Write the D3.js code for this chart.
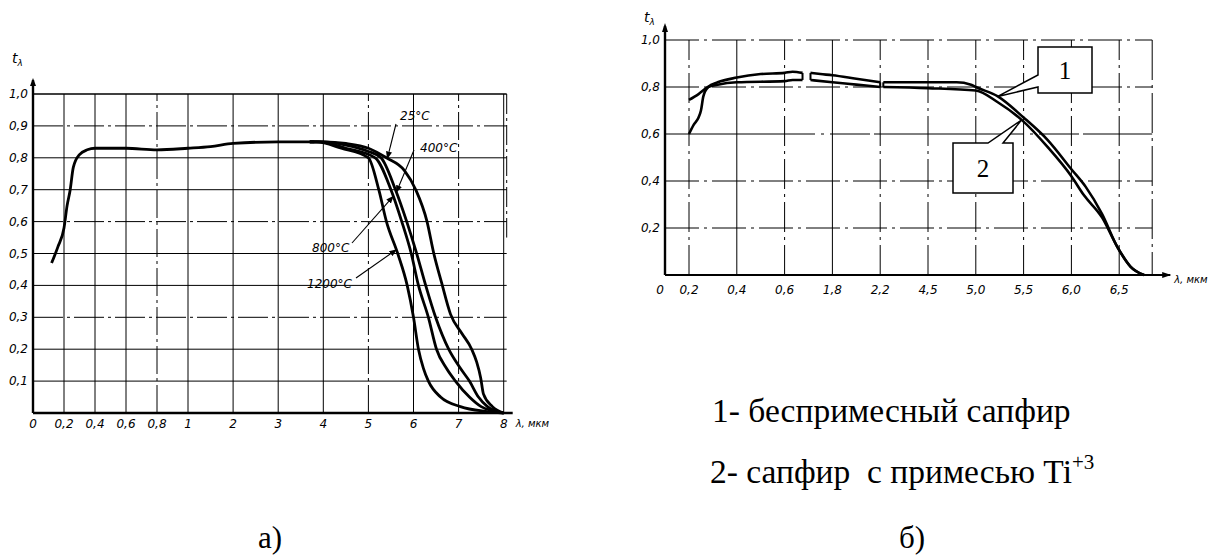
<!DOCTYPE html>
<html><head><meta charset="utf-8">
<script src="https://cdn.jsdelivr.net/npm/d3@7"></script>
<style>body{margin:0;background:#fff}svg{display:block}</style>
</head><body>
<svg id="c" width="1219" height="558"></svg>
<script>
// ---------- DATA ----------
// Left chart (a): transmittance t_λ vs wavelength λ (мкм)
const leftXTicks = [0,0.2,0.4,0.6,0.8,1,2,3,4,5,6,7,8];
const leftXLabels = ["0","0,2","0,4","0,6","0,8","1","2","3","4","5","6","7","8"];
const leftYTicks = [0.1,0.2,0.3,0.4,0.5,0.6,0.7,0.8,0.9,1.0];
const leftYLabels = ["0,1","0,2","0,3","0,4","0,5","0,6","0,7","0,8","0,9","1,0"];
const leftBase = [[0.12,0.47],[0.16,0.52],[0.2,0.58],[0.22,0.65],[0.24,0.70],[0.26,0.77],[0.3,0.81],[0.35,0.825],[0.4,0.83],[0.6,0.83],[0.8,0.825],[1.0,0.83],[1.5,0.835],[2,0.845],[3,0.85],[3.8,0.85]];
const curve25 = [[3.7,0.85],[4.0,0.85],[4.5,0.845],[5.0,0.83],[5.4,0.80],[5.8,0.76],[6.05,0.70],[6.3,0.60],[6.45,0.50],[6.62,0.41],[6.82,0.31],[7.07,0.25],[7.29,0.20],[7.4,0.16],[7.49,0.11],[7.55,0.06],[7.75,0.02],[8,0]];
const curve400 = [[3.7,0.85],[4.0,0.85],[4.5,0.84],[5.0,0.82],[5.28,0.80],[5.6,0.70],[5.85,0.60],[6.07,0.50],[6.27,0.40],[6.49,0.30],[6.78,0.20],[7.04,0.14],[7.24,0.10],[7.44,0.05],[7.64,0.02],[8,0]];
const curve800 = [[3.7,0.85],[3.9,0.85],[4.5,0.83],[5.15,0.80],[5.5,0.70],[5.74,0.60],[5.95,0.50],[6.11,0.40],[6.33,0.30],[6.51,0.20],[6.73,0.14],[6.93,0.10],[7.24,0.05],[7.5,0.02],[8,0]];
const curve1200 = [[3.7,0.85],[3.85,0.85],[4.4,0.83],[5.0,0.80],[5.23,0.70],[5.4,0.60],[5.65,0.50],[5.86,0.40],[6.0,0.30],[6.11,0.20],[6.22,0.14],[6.33,0.10],[6.6,0.05],[7.04,0.02],[7.6,0.005],[8,0]];
const tempLabels = ["25°C","400°C","800°C","1200°C"];
const tempAnchorsX = [5.42,5.62,5.55,5.62];

// Right chart (б)
const rightXTicks = [0,0.2,0.4,0.6,1.8,2.2,4.5,5.0,5.5,6.0,6.5];
const rightXLabels = ["0","0,2","0,4","0,6","1,8","2,2","4,5","5,0","5,5","6,0","6,5"];
const rightYTicks = [0.2,0.4,0.6,0.8,1.0];
const rightYLabels = ["0,2","0,4","0,6","0,8","1,0"];
// curve 1 – беспримесный сапфир, curve 2 – сапфир с примесью Ti+3 (segments split at axis breaks)
const sapphire1 = [
  [[0.2,0.6],[0.22,0.64],[0.24,0.67],[0.25,0.70],[0.26,0.76],[0.28,0.80],[0.32,0.82],[0.4,0.84],[0.5,0.855],[0.6,0.86],[0.8,0.865],[1.05,0.86]],
  [[1.25,0.86],[1.5,0.855],[1.8,0.85],[2.0,0.835],[2.2,0.82]],
  [[2.35,0.82],[3.5,0.82],[4.5,0.82],[4.8,0.82],[4.95,0.81],[5.0,0.80],[5.23,0.76],[5.5,0.67],[5.75,0.575],[6.0,0.45],[6.15,0.375],[6.32,0.26],[6.48,0.12],[6.62,0.035],[6.76,0]]
];
const sapphire2 = [
  [[0.2,0.745],[0.24,0.77],[0.28,0.80],[0.32,0.81],[0.4,0.82],[0.6,0.825],[0.8,0.83],[1.05,0.83]],
  [[1.25,0.83],[1.8,0.82],[2.0,0.81],[2.2,0.80]],
  [[2.35,0.80],[4.5,0.795],[5.0,0.785],[5.23,0.735],[5.48,0.66],[5.75,0.545],[6.0,0.42],[6.13,0.34],[6.32,0.245],[6.48,0.12],[6.62,0.035],[6.76,0]]
];
const calloutLabels = ["1","2"];
const calloutAnchorsX = [5.23,5.48];
const legendLines = ["1- беспримесный сапфир","2- сапфир  с примесью Ti"];
const legendSup = "+3";
const panelLabels = ["а)","б)"];

// ---------- DRAW ----------
const svg = d3.select("#c");
const tickFont = "'DejaVu Sans', sans-serif";
const defs = svg.append("defs");
defs.append("marker").attr("id","arr").attr("viewBox","0 0 10 10").attr("refX",9).attr("refY",5)
  .attr("markerWidth",7).attr("markerHeight",7).attr("orient","auto")
  .append("path").attr("d","M0,1 L10,5 L0,9 z").attr("fill","#000");

function interp(data, x){
  for(let i=0;i<data.length-1;i++){
    const a=data[i], b=data[i+1];
    if(x>=a[0] && x<=b[0]) return a[1]+(b[1]-a[1])*(x-a[0])/(b[0]-a[0]);
  }
  return data[data.length-1][1];
}

// ---- Left chart ----
{
  const x0 = 33, w1 = 31, w2 = 45.1;
  const range = leftXTicks.map((d,i)=> i<=5 ? x0 + i*w1 : x0 + 5*w1 + (i-5)*w2);
  const x = d3.scaleLinear().domain(leftXTicks).range(range);
  const y = d3.scaleLinear().domain([0,1]).range([413,94]);
  const g = svg.append("g");
  // grid
  g.selectAll(".hg").data(leftYTicks).join("line")
    .attr("x1",x(0)).attr("x2",x(8)+3).attr("y1",d=>y(d)).attr("y2",d=>y(d))
    .attr("stroke","#000").attr("stroke-width",d=>d===1?1.4:1)
    .attr("stroke-dasharray",(d,i)=> i%3===2 ? "30,4,3,4" : null);
  g.selectAll(".vg").data(leftXTicks.slice(1)).join("line")
    .attr("x1",d=>x(d)).attr("x2",d=>x(d)).attr("y1",y(0)).attr("y2",y(1))
    .attr("stroke","#000").attr("stroke-width",1)
    .attr("stroke-dasharray",(d,i)=> (i===3||i===8||i===10) ? "28,4,3,4" : null);
  g.append("line").attr("x1",x(8)+3).attr("x2",x(8)+3).attr("y1",y(1)).attr("y2",y(0.55))
    .attr("stroke","#000").attr("stroke-dasharray","20,4,3,4");
  // axes
  g.append("line").attr("x1",x(0)).attr("x2",x(8)+9).attr("y1",y(0)).attr("y2",y(0)).attr("stroke","#000").attr("stroke-width",2.4);
  g.append("line").attr("x1",x(0)).attr("x2",x(0)).attr("y1",y(0)).attr("y2",y(1)-14).attr("stroke","#000").attr("stroke-width",2.4);
  g.append("path").attr("d",`M${x(0)-3},${y(1)-8} L${x(0)},${y(1)-16} L${x(0)+3},${y(1)-8} Z`).attr("fill","#000");
  // tick labels
  g.selectAll(".xl").data(leftXTicks).join("text")
    .attr("x",d=>x(d)).attr("y",y(0)+15).attr("text-anchor","middle")
    .attr("font-family",tickFont).attr("font-style","italic").attr("font-size",12).text((d,i)=>leftXLabels[i]);
  g.selectAll(".yl").data(leftYTicks).join("text")
    .attr("x",x(0)-5).attr("y",d=>y(d)+4).attr("text-anchor","end")
    .attr("font-family",tickFont).attr("font-style","italic").attr("font-size",12).text((d,i)=>leftYLabels[i]);
  const ta = g.append("text").attr("x",12).attr("y",63).attr("font-family",tickFont).attr("font-style","italic").attr("font-size",14);
  ta.append("tspan").text("t");
  ta.append("tspan").attr("font-size",9).attr("dy",3).text("λ");
  g.append("text").attr("x",x(8)+12).attr("y",y(0)+14).attr("font-family",tickFont).attr("font-style","italic").attr("font-size",10).text("λ, мкм");
  // curves
  const line = d3.line().x(d=>x(d[0])).y(d=>y(d[1])).curve(d3.curveMonotoneX);
  const curves = [leftBase, curve25, curve400, curve800, curve1200];
  g.selectAll(".cv").data(curves).join("path").attr("d",line)
    .attr("fill","none").attr("stroke","#000").attr("stroke-width",2.8).attr("stroke-linejoin","round");
  // temperature labels
  const lab = [[400,120],[420,152],[312,252],[307,288]];
  const from = [[396,124],[414,150],[352,243],[356,278]];
  const temps = [curve25,curve400,curve800,curve1200];
  tempLabels.forEach((t,i)=>{
    g.append("text").attr("x",lab[i][0]).attr("y",lab[i][1])
      .attr("font-family",tickFont).attr("font-style","italic").attr("font-size",12).text(t);
    const tx = x(tempAnchorsX[i]), ty = y(interp(temps[i],tempAnchorsX[i]));
    g.append("line").attr("x1",from[i][0]).attr("y1",from[i][1]).attr("x2",tx).attr("y2",ty)
      .attr("stroke","#000").attr("stroke-width",1.1).attr("marker-end","url(#arr)");
  });
  svg.append("text").attr("x",270).attr("y",548).attr("text-anchor","middle")
    .attr("font-family","'Liberation Serif', serif").attr("font-size",31).text(panelLabels[0]);
}

// ---- Right chart ----
{
  const x0 = 665, first = 24, step = 47.8;
  const range = rightXTicks.map((d,i)=> i===0 ? x0 : x0 + first + (i-1)*step);
  const x = d3.scaleLinear().domain(rightXTicks).range(range);
  const y = d3.scaleLinear().domain([0,1]).range([275,40]);
  const xRight = x(6.5) + 33;
  const g = svg.append("g");
  g.selectAll(".hg").data(rightYTicks).join("line")
    .attr("x1",x(0)).attr("x2",xRight).attr("y1",d=>y(d)).attr("y2",d=>y(d))
    .attr("stroke","#000").attr("stroke-width",1)
    .attr("stroke-dasharray",(d,i)=> i===2 ? "150,6,3,6,40,4" : "34,5,3,5");
  g.selectAll(".vg").data(rightXTicks.slice(1)).join("line")
    .attr("x1",d=>x(d)).attr("x2",d=>x(d)).attr("y1",y(0)).attr("y2",y(1))
    .attr("stroke","#000").attr("stroke-width",1)
    .attr("stroke-dasharray",(d,i)=> (i===1||i===3) ? null : "30,5,3,5");
  g.append("line").attr("x1",xRight).attr("x2",xRight).attr("y1",y(1)).attr("y2",y(0))
    .attr("stroke","#000").attr("stroke-width",1).attr("stroke-dasharray","40,5,3,5");
  // axes
  g.append("line").attr("x1",x(0)).attr("x2",xRight+18).attr("y1",y(0)).attr("y2",y(0)).attr("stroke","#000").attr("stroke-width",2.2);
  g.append("path").attr("d",`M${xRight+10},${y(0)-3} L${xRight+19},${y(0)} L${xRight+10},${y(0)+3} Z`).attr("fill","#000");
  g.append("line").attr("x1",x(0)).attr("x2",x(0)).attr("y1",y(0)).attr("y2",y(1)-14).attr("stroke","#000").attr("stroke-width",2.4);
  g.append("path").attr("d",`M${x(0)-3},${y(1)-8} L${x(0)},${y(1)-17} L${x(0)+3},${y(1)-8} Z`).attr("fill","#000");
  g.selectAll(".xl").data(rightXTicks).join("text")
    .attr("x",(d,i)=> i===0 ? x(d)-5 : x(d)).attr("y",y(0)+19).attr("text-anchor","middle")
    .attr("font-family",tickFont).attr("font-style","italic").attr("font-size",12).text((d,i)=>rightXLabels[i]);
  g.selectAll(".yl").data(rightYTicks).join("text")
    .attr("x",x(0)-5).attr("y",d=>y(d)+4).attr("text-anchor","end")
    .attr("font-family",tickFont).attr("font-style","italic").attr("font-size",12).text((d,i)=>rightYLabels[i]);
  const ta = g.append("text").attr("x",644).attr("y",22).attr("font-family",tickFont).attr("font-style","italic").attr("font-size",14);
  ta.append("tspan").text("t");
  ta.append("tspan").attr("font-size",9).attr("dy",3).text("λ");
  g.append("text").attr("x",xRight+22).attr("y",y(0)+8).attr("font-family",tickFont).attr("font-style","italic").attr("font-size",10).text("λ, мкм");
  // curves
  const line = d3.line().x(d=>x(d[0])).y(d=>y(d[1])).curve(d3.curveMonotoneX);
  [sapphire1, sapphire2].forEach(segs=>{
    g.selectAll(null).data(segs).join("path").attr("d",line)
      .attr("fill","none").attr("stroke","#000").attr("stroke-width",2.6).attr("stroke-linejoin","round");
  });
  // break marks joining the two curves at segment ends
  const breaks = [];
  for(let s=0;s<sapphire1.length-1;s++){
    breaks.push(sapphire1[s][sapphire1[s].length-1][0]);
    breaks.push(sapphire1[s+1][0][0]);
  }
  g.selectAll(".bk").data(breaks).join("line")
    .attr("x1",d=>x(d)).attr("x2",d=>x(d))
    .attr("y1",d=>y(interp(sapphire1.flat(),d))).attr("y2",d=>y(interp(sapphire2.flat(),d)))
    .attr("stroke","#000").attr("stroke-width",2);
  // callouts
  const c1 = [x(calloutAnchorsX[0]), y(interp(sapphire1[2],calloutAnchorsX[0]))];
  const c2 = [x(calloutAnchorsX[1]), y(interp(sapphire2[2],calloutAnchorsX[1]))];
  const b1 = {x:1038,y:47,w:54,h:46}, b2 = {x:953,y:143,w:60,h:50};
  g.append("path").attr("d",`M${b1.x},${b1.y} H${b1.x+b1.w} V${b1.y+b1.h} H${b1.x} V${b1.y+40} L${c1[0]},${c1[1]} L${b1.x},${b1.y+28} Z`)
    .attr("fill","#fff").attr("stroke","#000").attr("stroke-width",1.5);
  g.append("path").attr("d",`M${b2.x},${b2.y} H${b2.x+35} L${c2[0]},${c2[1]} L${b2.x+50},${b2.y} H${b2.x+b2.w} V${b2.y+b2.h} H${b2.x} Z`)
    .attr("fill","#fff").attr("stroke","#000").attr("stroke-width",1.5);
  g.append("text").attr("x",b1.x+b1.w/2).attr("y",b1.y+32).attr("text-anchor","middle")
    .attr("font-family","'Liberation Serif', serif").attr("font-size",25).text(calloutLabels[0]);
  g.append("text").attr("x",b2.x+b2.w/2).attr("y",b2.y+34).attr("text-anchor","middle")
    .attr("font-family","'Liberation Serif', serif").attr("font-size",25).text(calloutLabels[1]);
  // legend
  svg.append("text").attr("x",712).attr("y",422)
    .attr("font-family","'Liberation Serif', serif").attr("font-size",33.5).text(legendLines[0]);
  const l2 = svg.append("text").attr("x",710).attr("y",483)
    .attr("font-family","'Liberation Serif', serif").attr("font-size",33.5).attr("xml:space","preserve").style("white-space","pre");
  l2.append("tspan").text(legendLines[1]);
  l2.append("tspan").attr("font-size",21).attr("dy",-14).text(legendSup);
  svg.append("text").attr("x",912).attr("y",548).attr("text-anchor","middle")
    .attr("font-family","'Liberation Serif', serif").attr("font-size",31).text(panelLabels[1]);
}
</script>
</body></html>
